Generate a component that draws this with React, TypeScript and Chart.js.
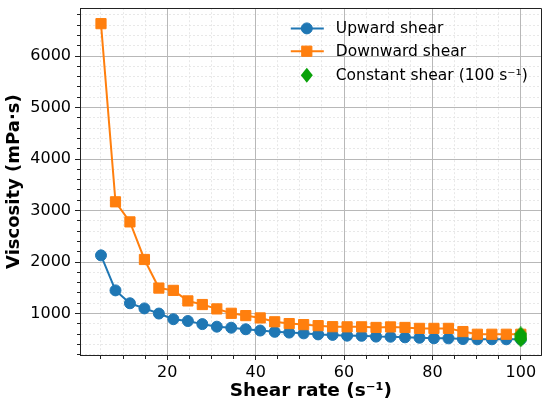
import { useEffect, useRef } from "react"
import { Chart, registerables } from "chart.js"

Chart.register(...registerables)

// shear rate sweep, 30 steps from 5 to 100 s^-1
const shearRates = [
  5.0, 8.28, 11.55, 14.83, 18.1, 21.38, 24.66, 27.93, 31.21, 34.48, 37.76, 41.03, 44.31, 47.59, 50.86,
  54.14, 57.41, 60.69, 63.97, 67.24, 70.52, 73.79, 77.07, 80.34, 83.62, 86.9, 90.17, 93.45, 96.72, 100.0,
]
const upwardViscosity = [
  2130, 1450, 1200, 1100, 1000, 890, 855, 795, 745, 725, 695, 670, 645, 630, 615,
  595, 585, 570, 568, 552, 550, 538, 530, 520, 518, 505, 500, 500, 500, 500,
]
const downwardViscosity = [
  6630, 3170, 2780, 2050, 1495, 1450, 1245, 1175, 1090, 1005, 960, 915, 840, 805, 785,
  765, 745, 742, 742, 730, 740, 730, 712, 712, 712, 650, 598, 598, 598, 598,
]
const constantRate = [100, 100, 100, 100]
const constantViscosity = [605, 565, 525, 490]

const legendLabels = ["Upward shear", "Downward shear", "Constant shear (100 s⁻¹)"]
const xMajorTicks = [20, 40, 60, 80, 100]
const yMajorTicks = [1000, 2000, 3000, 4000, 5000, 6000]
const xMinorStep = 5
const yMinorStep = 200

const BLUE = "#1f77b4"
const ORANGE = "#ff7f0e"
const GREEN = "#0aa20a"
const FONT = "DejaVu Sans"

const isMajorX = (v: number) => xMajorTicks.includes(v)
const isMajorY = (v: number) => yMajorTicks.includes(v)

// slightly tall diamond, like matplotlib's "D" marker here
function makeDiamond(w: number, h: number, color: string) {
  const c = document.createElement("canvas")
  c.width = w
  c.height = h
  const g = c.getContext("2d")!
  g.fillStyle = color
  g.beginPath()
  g.moveTo(w / 2, 0)
  g.lineTo(w, h / 2)
  g.lineTo(w / 2, h)
  g.lineTo(0, h / 2)
  g.closePath()
  g.fill()
  return c
}

function drawMarker(ctx: CanvasRenderingContext2D, kind: string, x: number, y: number, color: string) {
  ctx.fillStyle = color
  ctx.strokeStyle = color
  ctx.lineWidth = 1
  ctx.beginPath()
  if (kind === "circle") {
    ctx.arc(x, y, 5.5, 0, Math.PI * 2)
  } else if (kind === "rect") {
    const s = 5.1
    ctx.rect(x - s, y - s, 2 * s, 2 * s)
  } else {
    ctx.moveTo(x - 6, y)
    ctx.lineTo(x, y - 7.5)
    ctx.lineTo(x + 6, y)
    ctx.lineTo(x, y + 7.5)
    ctx.closePath()
  }
  ctx.fill()
  if (kind !== "diamond") ctx.stroke()
}

const framePlugin = {
  id: "frameAndLegend",
  afterDraw(chart: Chart) {
    const { ctx, chartArea: a } = chart
    ctx.save()
    // top and right spines
    ctx.strokeStyle = "#222"
    ctx.lineWidth = 1
    ctx.beginPath()
    const top = Math.round(a.top) + 0.5
    const right = Math.round(a.right) - 0.5
    ctx.moveTo(a.left, top)
    ctx.lineTo(right, top)
    ctx.lineTo(right, a.bottom)
    ctx.stroke()

    // legend, no frame
    const styles = [
      { color: BLUE, marker: "circle", line: true },
      { color: ORANGE, marker: "rect", line: true },
      { color: GREEN, marker: "diamond", line: false },
    ]
    const rows = [20.2, 43, 67]
    ctx.font = `15.5px "${FONT}"`
    ctx.textBaseline = "middle"
    ctx.textAlign = "left"
    styles.forEach((s, i) => {
      const y = a.top + rows[i]
      const x0 = a.right - 251
      const xm = a.right - 235
      const x1 = a.right - 218
      if (s.line) {
        ctx.strokeStyle = s.color
        ctx.lineWidth = 2
        ctx.beginPath()
        ctx.moveTo(x0, y)
        ctx.lineTo(x1, y)
        ctx.stroke()
      }
      drawMarker(ctx, s.marker, xm, y, s.color)
      ctx.fillStyle = "#000"
      ctx.fillText(legendLabels[i], a.right - 206, y + 1)
    })
    ctx.restore()
  },
}

export default function App() {
  const chartRef = useRef<HTMLCanvasElement>(null)
  const chartInstance = useRef<Chart | null>(null)

  useEffect(() => {
    if (!chartRef.current) return
    if (chartInstance.current) {
      chartInstance.current.destroy()
    }
    const ctx = chartRef.current.getContext("2d")
    if (!ctx) return

    Chart.defaults.font.family = FONT
    Chart.defaults.color = "#000"

    const diamond = makeDiamond(13, 15, GREEN)

    chartInstance.current = new Chart(ctx, {
      type: "line",
      data: {
        datasets: [
          {
            label: legendLabels[2],
            data: constantRate.map((x, i) => ({ x, y: constantViscosity[i] })),
            showLine: false,
            pointStyle: diamond,
            pointRadius: 7,
            backgroundColor: GREEN,
            borderColor: GREEN,
            order: 0,
          },
          {
            label: legendLabels[1],
            data: shearRates.map((x, i) => ({ x, y: downwardViscosity[i] })),
            borderColor: ORANGE,
            backgroundColor: ORANGE,
            borderWidth: 2,
            pointStyle: "rect",
            pointRadius: 7.2,
            pointBorderWidth: 1,
            order: 1,
          },
          {
            label: legendLabels[0],
            data: shearRates.map((x, i) => ({ x, y: upwardViscosity[i] })),
            borderColor: BLUE,
            backgroundColor: BLUE,
            borderWidth: 2,
            pointStyle: "circle",
            pointRadius: 5.5,
            pointBorderWidth: 1,
            order: 2,
          },
        ],
      },
      options: {
        responsive: true,
        maintainAspectRatio: false,
        animation: false,
        events: [],
        layout: { padding: { top: 6, right: 7, left: 0, bottom: 0 } },
        plugins: {
          legend: { display: false },
          tooltip: { enabled: false },
        },
        scales: {
          x: {
            type: "linear",
            min: 0.25,
            max: 104.75,
            afterBuildTicks: (axis: any) => {
              const ticks = []
              for (let v = xMinorStep; v <= axis.max; v += xMinorStep) ticks.push({ value: v })
              axis.ticks = ticks
            },
            afterFit: (axis: any) => {
              axis.height = 51
              axis.paddingLeft = 0
              axis.paddingRight = 0
            },
            ticks: {
              autoSkip: false,
              maxRotation: 0,
              padding: 3,
              font: { size: 16 },
              color: "#000",
              callback: (v: any) => (isMajorX(Number(v)) ? String(v) : ""),
            },
            grid: {
              color: (c: any) => (c.tick && isMajorX(c.tick.value) ? "#b8b8b8" : "#e2e2e2"),
              lineWidth: (c: any) => (c.tick && isMajorX(c.tick.value) ? 1 : 0.8),
              tickColor: "#222",
              tickLength: 5,
              tickWidth: 1,
              tickBorderDash: (c: any) => (c.tick && !isMajorX(c.tick.value) ? [3, 100] : []),
            },
            border: {
              display: true,
              color: "#222",
              width: 1,
              dash: (c: any) => (c.tick && !isMajorX(c.tick.value) ? [2, 2] : []),
            },
            title: {
              display: true,
              text: "Shear rate (s⁻¹)",
              font: { size: 18.5, weight: "bold" },
              color: "#000",
              padding: { top: 0, bottom: 4 },
            },
          },
          y: {
            type: "linear",
            min: 195,
            max: 6930,
            afterBuildTicks: (axis: any) => {
              const ticks = []
              for (let v = yMinorStep; v <= axis.max; v += yMinorStep) ticks.push({ value: v })
              axis.ticks = ticks
            },
            afterFit: (axis: any) => {
              axis.width = 80
              axis.paddingTop = 0
              axis.paddingBottom = 0
            },
            ticks: {
              autoSkip: false,
              padding: 4,
              font: { size: 16 },
              color: "#000",
              callback: (v: any) => (isMajorY(Number(v)) ? String(v) : ""),
            },
            grid: {
              color: (c: any) => (c.tick && isMajorY(c.tick.value) ? "#b8b8b8" : "#e2e2e2"),
              lineWidth: (c: any) => (c.tick && isMajorY(c.tick.value) ? 1 : 0.8),
              tickColor: "#222",
              tickLength: 5,
              tickWidth: 1,
              tickBorderDash: (c: any) => (c.tick && !isMajorY(c.tick.value) ? [0, 2, 3, 100] : []),
            },
            border: {
              display: true,
              color: "#222",
              width: 1,
              dash: (c: any) => (c.tick && !isMajorY(c.tick.value) ? [2, 2] : []),
            },
            title: {
              display: true,
              text: "Viscosity (mPa·s)",
              font: { size: 18, weight: "bold" },
              color: "#000",
              padding: { top: 4, bottom: 0 },
            },
          },
        },
      },
      plugins: [framePlugin],
    })

    return () => {
      if (chartInstance.current) {
        chartInstance.current.destroy()
        chartInstance.current = null
      }
    }
  }, [])

  return (
    <div style={{ position: "fixed", left: 0, top: 0, width: 550, height: 406, background: "#fff" }}>
      <canvas ref={chartRef} />
    </div>
  )
}
